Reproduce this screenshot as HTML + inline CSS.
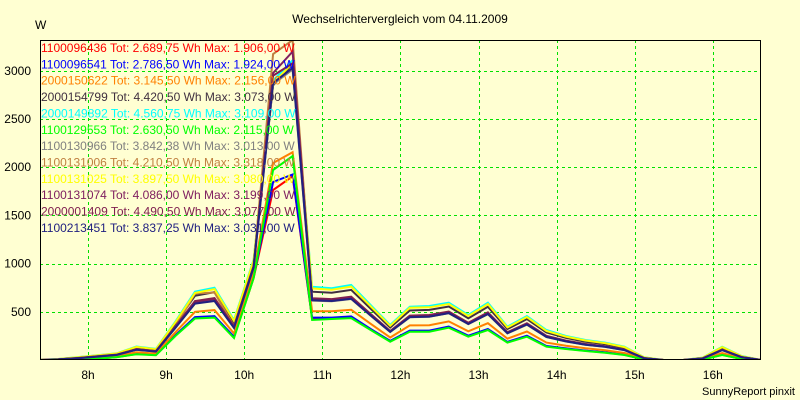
<!DOCTYPE html>
<html><head><meta charset="utf-8"><style>
html,body{margin:0;padding:0;background:#ffffd2;}
svg{display:block;font-family:"Liberation Sans",sans-serif;}
</style></head><body>
<svg id="chart" width="800" height="400" viewBox="0 0 800 400" xmlns="http://www.w3.org/2000/svg">
<rect x="0" y="0" width="800" height="400" fill="#ffffd2"/>
<text x="400" y="23" text-anchor="middle" font-size="12" fill="#000">Wechselrichtervergleich vom 04.11.2009</text>
<text x="35" y="29" font-size="12" fill="#000">W</text>
<text x="795" y="395" text-anchor="end" font-size="11" fill="#000">SunnyReport pinxit</text>
<defs><clipPath id="plotclip"><rect x="40" y="40" width="720" height="320"/></clipPath></defs>
<g id="grid"></g>
<g id="series" clip-path="url(#plotclip)"></g>
<rect x="40.5" y="40.5" width="720" height="319" fill="none" stroke="#000" stroke-width="1"/>
<g id="axes"></g>
<g id="legend"></g>
</svg>
<script>
const times = [7.37,7.62,7.87,8.12,8.37,8.62,8.87,9.12,9.37,9.62,9.87,10.12,10.37,10.62,10.87,11.12,11.37,11.62,11.87,12.12,12.37,12.62,12.87,13.12,13.37,13.62,13.87,14.12,14.37,14.62,14.87,15.12,15.37,15.62,15.87,16.12,16.37,16.62];
const xTickHours = [8,9,10,11,12,13,14,15,16];
const xTickLabels = ["8h","9h","10h","11h","12h","13h","14h","15h","16h"];
const yTicks = [500,1000,1500,2000,2500,3000];
const seriesNames = ["1100096436","1100096541","2000150622","2000154799","2000149892","1100129553","1100130966","1100131006","1100131025","1100131074","2000001409","1100213451"];
const seriesTotals = ["2.689,75","2.786,50","3.145,50","4.420,50","4.560,75","2.630,50","3.842,38","4.210,50","3.897,50","4.086,00","4.490,50","3.837,25"];
const seriesMax = ["1.906,00","1.924,00","2.156,00","3.073,00","3.109,00","2.115,00","3.013,00","3.318,00","3.080,00","3.199,00","3.077,00","3.031,00"];
const seriesColors = ["#ff0000","#0000ff","#ff8000","#403040","#00ffff","#00ff00","#808080","#c08040","#ffff00","#802060","#802050","#202080"];
const s1100096436 = [0,0,5,15,30,62,52,255,440,450,232,850,1763,1906,430,435,445,318,195,300,300,342,248,318,185,248,142,117,96,78,54,5,0,0,5,54,10,0];
const s1100096541 = [0,1,6,17,32,64,53,258,445,455,242,860,1846,1924,440,440,452,322,198,305,305,348,252,322,188,252,145,120,98,80,56,6,0,0,6,56,12,0];
const s2000150622 = [0,3,11,24,40,80,66,288,500,518,275,900,2044,2156,505,505,521,376,233,359,361,400,298,382,222,296,181,148,122,102,73,11,0,0,10,73,18,0];
const s2000154799 = [0,9,26,45,64,128,105,378,666,704,387,1012,2850,3073,709,697,727,531,337,514,520,555,433,552,322,424,285,229,190,165,125,24,0,0,22,125,36,0];
const s2000149892 = [0,10,30,50,70,140,115,400,710,750,415,1040,2900,3109,760,745,778,570,363,553,560,594,467,594,346,456,311,249,207,180,138,28,0,0,25,138,41,0];
const s1100129553 = [0,0,5,15,30,60,50,250,430,440,228,850,1971,2115,415,425,435,311,190,294,294,335,242,311,180,242,138,114,93,76,52,5,0,0,5,52,10,0];
const s1100130966 = [0,6,19,35,53,106,87,335,590,618,335,960,2860,3013,615,610,633,460,290,443,448,485,372,475,276,366,238,192,158,136,102,18,0,0,16,102,28,0];
const s1100131006 = [0,6,20,37,55,112,92,346,690,700,350,980,3174,3318,632,626,650,472,298,456,461,498,383,489,285,377,247,198,163,140,106,20,0,0,17,106,30,0];
const s1100131025 = [0,10,29,48,68,136,112,392,696,735,406,1030,2870,3080,743,729,761,557,355,541,547,581,456,580,338,446,302,243,202,175,134,27,0,0,24,134,39,0];
const s1100131074 = [0,6,20,37,55,110,91,345,605,634,345,970,2977,3199,630,625,649,471,298,455,460,497,382,488,284,376,246,198,163,140,106,20,0,0,17,106,30,0];
const s2000001409 = [0,7,21,38,56,113,93,348,612,642,350,975,2950,3077,640,632,657,477,301,461,467,503,387,495,288,381,250,201,166,142,108,20,0,0,18,108,30,0];
const s1100213451 = [0,6,19,35,53,106,87,335,585,612,332,958,2873,3031,620,612,635,462,292,445,450,487,373,477,278,368,240,193,159,137,103,18,0,0,16,103,28,0];
const seriesValues = [s1100096436,s1100096541,s2000150622,s2000154799,s2000149892,s1100129553,s1100130966,s1100131006,s1100131025,s1100131074,s2000001409,s1100213451];

const NS = "http://www.w3.org/2000/svg";
function xScale(h){ return 88 + (h - 8) * 78.1; }
function yScale(v){ return 360 - v * 48.2 / 500; }

const grid = document.getElementById('grid');
const axes = document.getElementById('axes');
xTickHours.forEach((h, i) => {
  const x = Math.round(xScale(h)) + 0.5;
  const l = document.createElementNS(NS, 'line');
  l.setAttribute('x1', x); l.setAttribute('x2', x);
  l.setAttribute('y1', 40); l.setAttribute('y2', 359);
  l.setAttribute('stroke', '#00e000'); l.setAttribute('stroke-dasharray', '3,3');
  
  
  grid.appendChild(l);
  const t = document.createElementNS(NS, 'text');
  t.setAttribute('x', xScale(h)); t.setAttribute('y', 379);
  t.setAttribute('text-anchor', 'middle'); t.setAttribute('font-size', '12');
  t.textContent = xTickLabels[i];
  
  
  axes.appendChild(t);
});
yTicks.forEach(v => {
  const y = Math.round(yScale(v)) + 0.5;
  const l = document.createElementNS(NS, 'line');
  l.setAttribute('x1', 40); l.setAttribute('x2', 760);
  l.setAttribute('y1', y); l.setAttribute('y2', y);
  l.setAttribute('stroke', '#00e000'); l.setAttribute('stroke-dasharray', '3,3');
  
  
  grid.appendChild(l);
  const t = document.createElementNS(NS, 'text');
  t.setAttribute('x', 31); t.setAttribute('y', yScale(v) + 4);
  t.setAttribute('text-anchor', 'end'); t.setAttribute('font-size', '12');
  t.textContent = String(v);
  
  
  axes.appendChild(t);
});

const sg = document.getElementById('series');
seriesValues.forEach((vals, i) => {
  const p = document.createElementNS(NS, 'polyline');
  p.setAttribute('points', vals.map((v, k) => xScale(times[k]).toFixed(1) + ',' + yScale(v).toFixed(1)).join(' '));
  p.setAttribute('fill', 'none');
  p.setAttribute('stroke', seriesColors[i]);
  p.setAttribute('stroke-width', '2');
  p.setAttribute('stroke-linejoin', 'miter');
  
  
  sg.appendChild(p);
});

const lg = document.getElementById('legend');
seriesNames.forEach((n, i) => {
  const t = document.createElementNS(NS, 'text');
  t.setAttribute('x', 41); t.setAttribute('y', 52 + i * 16.36);
  t.setAttribute('font-size', '12');
  t.setAttribute('fill', seriesColors[i]);
  t.textContent = n + ' Tot: ' + seriesTotals[i] + ' Wh Max: ' + seriesMax[i] + ' W';
  
  
  lg.appendChild(t);
});
</script>
</body></html>
